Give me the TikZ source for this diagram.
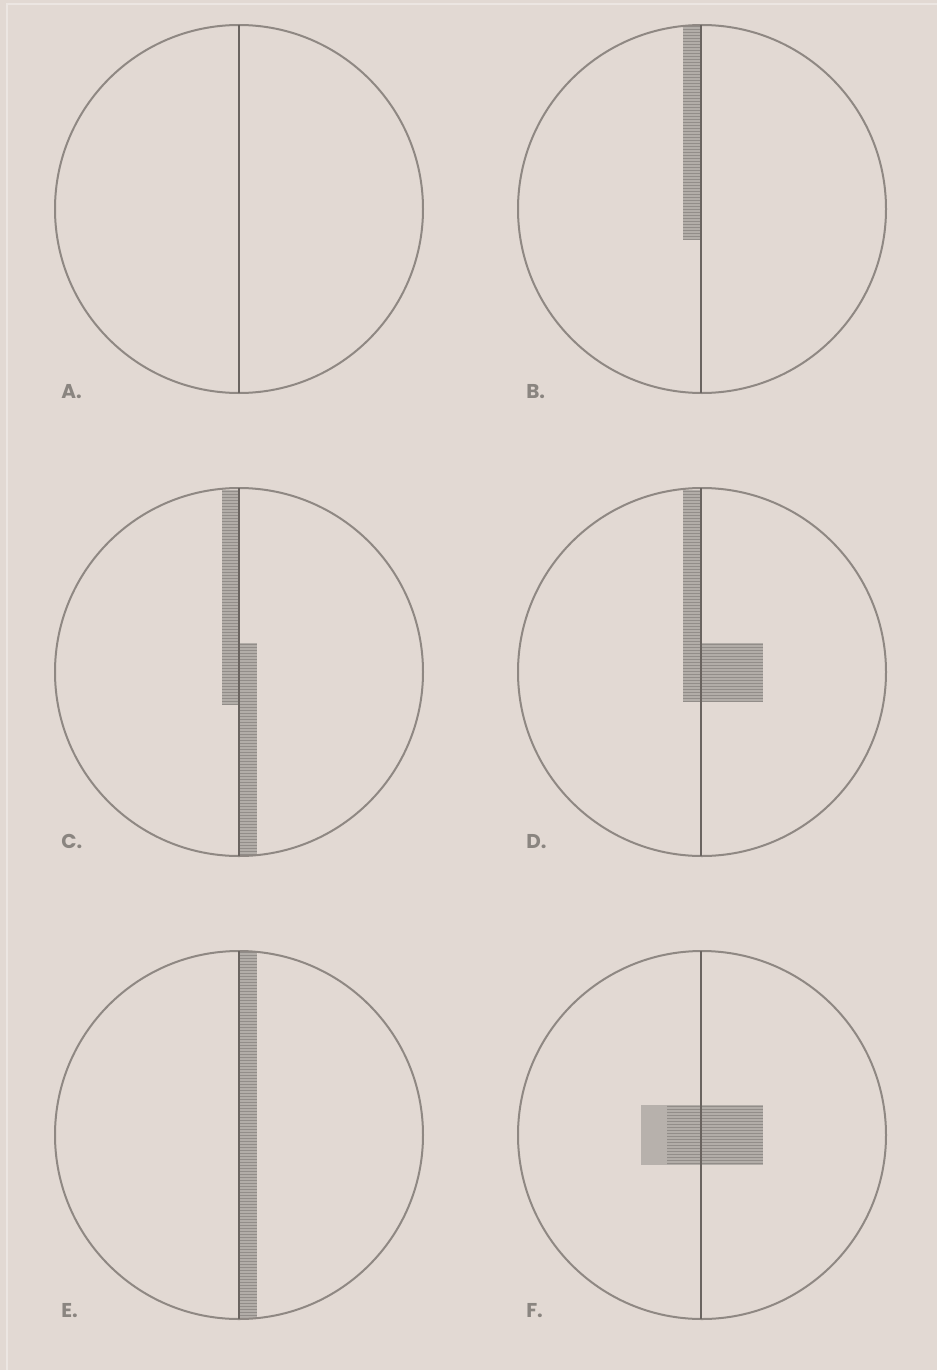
\documentclass[tikz,border=0pt]{standalone}
\usepackage{fontspec}
\setsansfont{Poppins}
\usetikzlibrary{positioning}
\definecolor{paper}{HTML}{E2D9D3}
\definecolor{ring}{HTML}{8F8883}
\definecolor{stem}{HTML}{6A6460}
\definecolor{hatchgray}{HTML}{B2ADA8}
\definecolor{bar}{HTML}{928D89}
\definecolor{tag}{HTML}{8A8580}
% striped box: x1,y1,x2,y2 in px
\newcommand{\stripebox}[4]{%
  \fill[hatchgray] (#1,#2) rectangle (#3,#4);
  \begin{scope}
    \clip (#1,#2) rectangle (#3,#4);
    \foreach \k in {0,...,125} {\draw[bar, line width=0.7pt] (#1,#2+3*\k+1.5) -- (#3,#2+3*\k+1.5);}
  \end{scope}}
\begin{document}
\begin{tikzpicture}[
  x=0.75pt, y=-0.75pt,
  circ/.style={draw=ring, line width=1.5pt},
  axis/.style={draw=stem, line width=2pt},
  lbl/.style={font=\sffamily\bfseries\fontsize{15}{15}\selectfont, text=tag, anchor=south west, inner sep=0pt}
]
\fill[paper] (0,0) rectangle (937,1370);
\useasboundingbox (0,0) rectangle (937,1370);
\draw[white!35!paper, line width=0.8pt] (7,1370) -- (7,4) -- (937,4);
% stripes
\stripebox{683}{25}{701}{240}
\stripebox{222}{490}{239}{704}
\stripebox{239}{643}{257}{856}
\stripebox{683}{490}{701}{702}
\stripebox{701}{643}{763}{702}
\stripebox{239}{951}{257}{1319}
\fill[hatchgray!90!paper] (641,1105) rectangle (667,1165);
\stripebox{667}{1105}{763}{1165}
% circles and axes
\foreach \cx/\cy in {239/209,239/672,239/1135} {
  \draw[circ] (\cx,\cy) circle[radius=184];
  \draw[axis] (\cx,\cy-184) -- (\cx,\cy+184);
}
\foreach \cy in {209,672,1135} {
  \draw[circ] (702,\cy) circle[radius=184];
  \draw[axis] (701,\cy-184) -- (701,\cy+184);
}
% labels
\node[lbl] (la) at (61,399) {A.};
\node[lbl] (lb) at (526,399) {B.};
\node[lbl] (lc) at (61,849) {C.};
\node[lbl] (ld) at (526,849) {D.};
\node[lbl] (le) at (61,1318) {E.};
\node[lbl] (lf) at (526,1318) {F.};
\end{tikzpicture}
\end{document}
